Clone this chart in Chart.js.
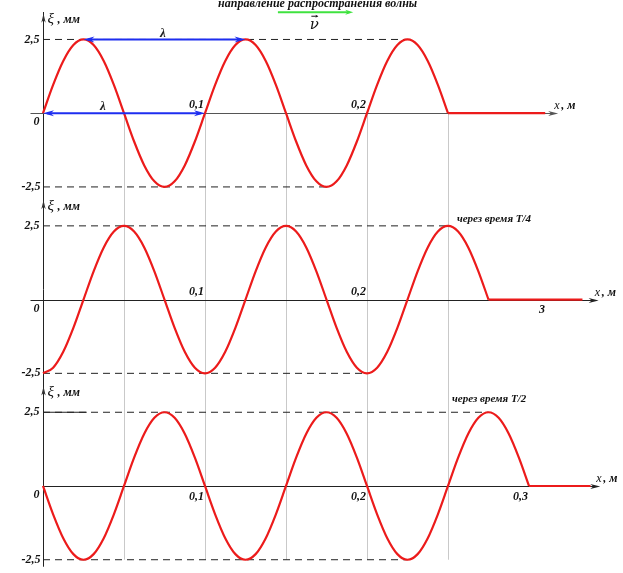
<!DOCTYPE html>
<html>
<head>
<meta charset="utf-8">
<script src="https://cdn.jsdelivr.net/npm/chart.js@4.4.1/dist/chart.umd.min.js"></script>
<style>
  html, body { margin: 0; padding: 0; background: #fff; }
  #wrap { width: 623px; height: 573px; position: relative; }
</style>
</head>
<body>
<div id="wrap"><canvas id="waves"></canvas></div>
<script>
// positions along the string, m (read every 1/16 of a wavelength)
const xs = [0, 0.00625, 0.0125, 0.01875, 0.025, 0.03125, 0.0375, 0.04375, 0.05, 0.05625, 0.0625, 0.06875,
            0.075, 0.08125, 0.0875, 0.09375, 0.1, 0.10625, 0.1125, 0.11875, 0.125, 0.13125, 0.1375, 0.14375,
            0.15, 0.15625, 0.1625, 0.16875, 0.175, 0.18125, 0.1875, 0.19375, 0.2, 0.20625, 0.2125, 0.21875,
            0.225, 0.23125, 0.2375, 0.24375, 0.25, 0.25625, 0.2625, 0.26875, 0.275, 0.28125, 0.2875, 0.29375, 0.3];

// displacement, mm: t = 0
const ys1 = [0, 0.96, 1.77, 2.31, 2.5, 2.31, 1.77, 0.96, 0, -0.96, -1.77, -2.31, -2.5, -2.31, -1.77, -0.96,
             0, 0.96, 1.77, 2.31, 2.5, 2.31, 1.77, 0.96, 0, -0.96, -1.77, -2.31, -2.5, -2.31, -1.77, -0.96,
             0, 0.96, 1.77, 2.31, 2.5, 2.31, 1.77, 0.96, 0];
// t = T/4
const ys2 = [-2.5, -2.31, -1.77, -0.96, 0, 0.96, 1.77, 2.31, 2.5, 2.31, 1.77, 0.96, 0, -0.96, -1.77, -2.31,
             -2.5, -2.31, -1.77, -0.96, 0, 0.96, 1.77, 2.31, 2.5, 2.31, 1.77, 0.96, 0, -0.96, -1.77, -2.31,
             -2.5, -2.31, -1.77, -0.96, 0, 0.96, 1.77, 2.31, 2.5, 2.31, 1.77, 0.96, 0];
// t = T/2
const ys3 = [0, -0.96, -1.77, -2.31, -2.5, -2.31, -1.77, -0.96, 0, 0.96, 1.77, 2.31, 2.5, 2.31, 1.77, 0.96,
             0, -0.96, -1.77, -2.31, -2.5, -2.31, -1.77, -0.96, 0, 0.96, 1.77, 2.31, 2.5, 2.31, 1.77, 0.96,
             0, -0.96, -1.77, -2.31, -2.5, -2.31, -1.77, -0.96, 0, 0.96, 1.77, 2.31, 2.5, 2.31, 1.77, 0.96, 0];

// the string at rest beyond the front
const restX1 = [0.25, 0.31];
const restX2 = [0.275, 0.333];
const restX3 = [0.3, 0.338];

// amplitude dashes end at the last crest / trough
const crestEnd = [0.225, 0.25, 0.275];
const troughEnd = [0.175, 0.2, 0.225];
const amplitude = 2.5;

// x-axis tick labels of each panel
const tickVals = [[0.1, 0.2], [0.1, 0.2, 0.308], [0.1, 0.2, 0.3]];
const tickText = [['0,1', '0,2'], ['0,1', '0,2', '3'], ['0,1', '0,2', '0,3']];
const axisEnd = [0.318, 0.343, 0.344];
const guideX = [0.05, 0.1, 0.15, 0.2, 0.25];

const panels = ['y1', 'y2', 'y3'];
const notes = ['', 'через время T/4', 'через время T/2'];
const noteX = [0, 0.2555, 0.2525];
const noteY = [0, 2.72, 2.95];

const lambdaFrom = [0.025, 0];
const lambdaTo = [0.125, 0.1];
const lambdaY = [2.5, 0];
const lambdaTextX = [0.074, 0.037];

const F = "bold italic 12px 'Liberation Serif', 'Times New Roman', serif";
const RED = '#ec1b1b';

function pts(ys) {
    return ys.map((y, i) => ({ x: xs[i], y: y }));
}

function flat(xv, v) {
    return xv.map(x => ({ x: x, y: v }));
}

const datasets = [];
[[ys1, restX1], [ys2, restX2], [ys3, restX3]].forEach((p, i) => {
    datasets.push({
        data: pts(p[0]), yAxisID: panels[i], borderColor: RED, borderWidth: 2.2,
        cubicInterpolationMode: 'monotone', pointRadius: 0, clip: false
    });
    datasets.push({
        data: flat(p[1], 0), yAxisID: panels[i], borderColor: RED, borderWidth: 2.2,
        pointRadius: 0, clip: false
    });
});
panels.forEach((id, i) => {
    datasets.push({
        data: flat([0, crestEnd[i]], amplitude), yAxisID: id, borderColor: '#222', borderWidth: 1,
        borderDash: [7, 5], pointRadius: 0, clip: false
    });
    datasets.push({
        data: flat([0, troughEnd[i]], -amplitude), yAxisID: id, borderColor: '#222', borderWidth: 1,
        borderDash: [7, 5], pointRadius: 0, clip: false
    });
});
// solid start of the upper dash in the last panel
datasets.push({
    data: flat([0, 0.027], amplitude), yAxisID: 'y3', borderColor: '#222', borderWidth: 1,
    pointRadius: 0, clip: false
});

function head(ctx, x, y, ang, len, w) {
    ctx.save();
    ctx.translate(x, y);
    ctx.rotate(ang);
    ctx.beginPath();
    ctx.moveTo(0, 0);
    ctx.lineTo(-len, -w);
    ctx.lineTo(-len * 0.7, 0);
    ctx.lineTo(-len, w);
    ctx.closePath();
    ctx.fill();
    ctx.restore();
}

function seg(ctx, x1, y1, x2, y2) {
    ctx.beginPath();
    ctx.moveTo(x1, y1);
    ctx.lineTo(x2, y2);
    ctx.stroke();
}

// axes, guides and labels around the curves
const wavePlugin = {
    id: 'wavePlugin',
    beforeDatasetsDraw(chart) {
        const ctx = chart.ctx;
        const sx = chart.scales.x;
        const s1 = chart.scales.y1;
        const s3 = chart.scales.y3;
        const x0 = Math.round(sx.getPixelForValue(0)) + 0.5;
        ctx.save();

        ctx.strokeStyle = '#c9c9c9';
        ctx.lineWidth = 1;
        guideX.forEach(v => {
            const p = Math.round(sx.getPixelForValue(v)) + 0.5;
            seg(ctx, p, s1.getPixelForValue(0), p, s3.getPixelForValue(-amplitude));
        });

        // vertical axis through all three panels
        ctx.strokeStyle = '#222';
        seg(ctx, x0, s1.top - 8, x0, s3.getPixelForValue(-amplitude) + 7);

        panels.forEach((id, i) => {
            const sy = chart.scales[id];
            const z = Math.round(sy.getPixelForValue(0)) + 0.5;
            const col = i === 0 ? '#555' : '#222';
            ctx.strokeStyle = col;
            ctx.fillStyle = col;
            ctx.lineWidth = 1.2;
            const xe = sx.getPixelForValue(axisEnd[i]);
            seg(ctx, x0 - (i === 2 ? 0 : 13), z, xe - 4, z);
            head(ctx, xe, z, 0, 10, 2.5);

            // small arrow on top of the vertical axis
            ctx.fillStyle = '#333';
            head(ctx, x0, sy.getPixelForValue(3.2) - 5, -Math.PI / 2, 9, 2.2);

            ctx.fillStyle = '#111';
            ctx.font = F;
            ctx.textBaseline = 'middle';
            ctx.textAlign = 'right';
            ctx.fillText('2,5', x0 - 4, sy.getPixelForValue(amplitude));
            ctx.fillText('-2,5', x0 - 3, sy.getPixelForValue(-amplitude));
            ctx.textAlign = 'center';
            ctx.fillText('0', x0 - 7, z + 8);

            tickVals[i].forEach((v, k) => {
                const p = sx.getPixelForValue(v);
                if (i === 2) {
                    ctx.textAlign = 'right';
                    ctx.textBaseline = 'top';
                    ctx.fillText(tickText[i][k], p - 1, z + 4);
                } else if (tickText[i][k] === '3') {
                    ctx.textAlign = 'center';
                    ctx.textBaseline = 'top';
                    ctx.fillText(tickText[i][k], p, z + 3);
                } else {
                    ctx.textAlign = 'right';
                    ctx.textBaseline = 'bottom';
                    ctx.fillText(tickText[i][k], p - 1, z - 3);
                }
            });

            // axis names
            ctx.textAlign = 'left';
            ctx.textBaseline = 'alphabetic';
            ctx.font = "italic 15px 'Liberation Serif', serif";
            ctx.fillText('ξ', x0 + 4, sy.getPixelForValue(3.05));
            ctx.font = F;
            ctx.fillText(', мм', x0 + 14, sy.getPixelForValue(3.05));
            ctx.font = "italic 12px 'Liberation Serif', serif";
            ctx.fillText('x', xe - 4, z - 5);
            ctx.font = F;
            ctx.fillText(', м', xe + 3, z - 5);

            if (notes[i]) {
                ctx.font = "bold italic 11px 'Liberation Serif', serif";
                ctx.textBaseline = 'middle';
                ctx.fillText(notes[i], sx.getPixelForValue(noteX[i]), sy.getPixelForValue(noteY[i]));
            }
        });
        ctx.restore();
    },
    afterDatasetsDraw(chart) {
        const ctx = chart.ctx;
        const sx = chart.scales.x;
        const s1 = chart.scales.y1;
        ctx.save();

        // wavelength arrows
        ctx.lineWidth = 2;
        lambdaY.forEach((v, k) => {
            const y = s1.getPixelForValue(v);
            const a = sx.getPixelForValue(lambdaFrom[k]);
            const b = sx.getPixelForValue(lambdaTo[k]);
            ctx.strokeStyle = '#1e2ef0';
            ctx.fillStyle = '#1e2ef0';
            seg(ctx, a + 4, y, b - 4, y);
            head(ctx, a, y, Math.PI, 11, 3);
            head(ctx, b, y, 0, 11, 3);
            ctx.fillStyle = '#222';
            ctx.font = "bold italic 13px 'Liberation Serif', serif";
            ctx.textAlign = 'center';
            ctx.textBaseline = 'middle';
            ctx.fillText('λ', sx.getPixelForValue(lambdaTextX[k]), y - (k === 0 ? 6 : 7));
        });

        // title and velocity arrow
        ctx.fillStyle = '#111';
        ctx.font = "bold italic 12px 'Liberation Serif', serif";
        ctx.textAlign = 'center';
        ctx.textBaseline = 'middle';
        ctx.fillText('направление распространения волны', sx.getPixelForValue(0.1695), s1.getPixelForValue(3.7));

        const gy = s1.getPixelForValue(3.42);
        const ga = sx.getPixelForValue(0.145);
        const gb = sx.getPixelForValue(0.1915);
        ctx.strokeStyle = '#3fe23f';
        ctx.fillStyle = '#3fe23f';
        ctx.lineWidth = 2;
        seg(ctx, ga, gy, gb - 4, gy);
        head(ctx, gb, gy, 0, 8, 2.5);

        const vx = sx.getPixelForValue(0.1675);
        const vy = s1.getPixelForValue(3.0);
        ctx.fillStyle = '#111';
        ctx.font = "italic 15px 'DejaVu Serif', serif";
        ctx.fillText('ν', vx, vy);
        ctx.strokeStyle = '#111';
        ctx.lineWidth = 1;
        seg(ctx, vx - 3, vy - 8.5, vx + 3, vy - 8.5);
        head(ctx, vx + 4, vy - 8.5, 0, 3, 1.5);
        ctx.restore();
    }
};

new Chart(document.getElementById('waves'), {
    type: 'line',
    data: { datasets: datasets },
    options: {
        responsive: true,
        maintainAspectRatio: false,
        animation: false,
        layout: { padding: { left: 43, right: 13, top: 20, bottom: 0 } },
        plugins: { legend: { display: false }, tooltip: { enabled: false } },
        scales: {
            x: { type: 'linear', min: 0, max: 0.35, display: false },
            y1: { type: 'linear', position: 'left', stack: 'p', stackWeight: 6.32, weight: 3,
                  min: -3.16, max: 3.16, display: false },
            y2: { type: 'linear', position: 'left', stack: 'p', stackWeight: 6.32, weight: 2,
                  min: -3.16, max: 3.16, display: false },
            y3: { type: 'linear', position: 'left', stack: 'p', stackWeight: 6.11, weight: 1,
                  min: -2.95, max: 3.16, display: false }
        }
    },
    plugins: [wavePlugin]
});
</script>
</body>
</html>
